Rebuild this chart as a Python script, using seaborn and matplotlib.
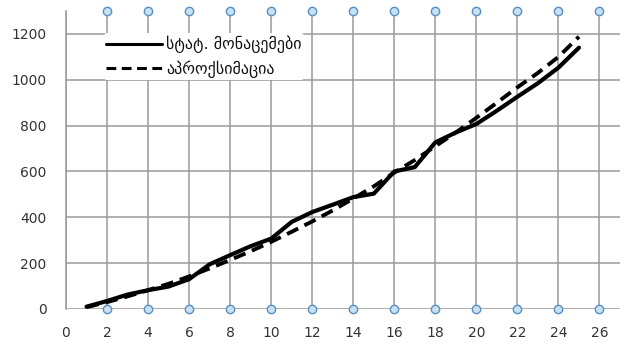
import matplotlib
matplotlib.use("Agg")
import matplotlib.pyplot as plt
import seaborn as sns
import pandas as pd

# Observed statistics and their approximation, days 1..25
days = list(range(1, 26))
observed = [10, 35, 63, 82, 98, 130, 195, 235, 274, 307, 380, 423, 455, 488, 503,
            600, 619, 727, 770, 807, 865, 926, 985, 1053, 1140]
approx = [8, 30, 55, 82, 110, 142, 177, 214, 252, 293, 337, 382, 430, 482, 535,
          595, 650, 710, 770, 834, 900, 967, 1030, 1100, 1188]

label_observed = "სტატ. მონაცემები"
label_approx = "აპროქსიმაცია"

x_ticks = list(range(0, 27, 2))
y_ticks = list(range(0, 1201, 200))
marker_x = list(range(2, 27, 2))
y_top = 1300

sns.set_theme(style="white")
plt.rcParams["font.family"] = ["DejaVu Sans"]

grid_col = "#9a9a9a"
text_col = "#333333"

fig = plt.figure(figsize=(6.27, 3.5), dpi=100)
ax = fig.add_axes([66 / 627, 1 - 309 / 350, 554 / 627, 298 / 350])

df = pd.DataFrame({"day": days, "observed": observed, "approx": approx})

sns.lineplot(data=df, x="day", y="observed", ax=ax, color="black", lw=3.0,
             label=label_observed, zorder=4, solid_capstyle="round",
             solid_joinstyle="round")
sns.lineplot(data=df, x="day", y="approx", ax=ax, color="black", lw=2.8,
             label=label_approx, zorder=3, dashes=False)
ax.lines[-1].set_linestyle((0, (3.2, 1.8)))

# circle markers at the top and bottom of each vertical gridline
mk = pd.DataFrame({"x": marker_x * 2, "y": [0] * len(marker_x) + [y_top] * len(marker_x)})
sns.scatterplot(data=mk, x="x", y="y", ax=ax, s=36, color="#c6e2f2",
                edgecolor="#5b8fc2", linewidth=1.0, zorder=5, clip_on=False, legend=False)

ax.set_xlim(0, 27)
ax.set_ylim(0, y_top)
ax.set_xticks(x_ticks)
ax.set_yticks(y_ticks)
ax.set_xlabel("")
ax.set_ylabel("")

ax.grid(True, color=grid_col, lw=1.1)
ax.set_axisbelow(True)
for s in ["top", "right", "bottom"]:
    ax.spines[s].set_visible(False)
ax.spines["left"].set_color(grid_col)
ax.spines["left"].set_linewidth(1.1)

ax.tick_params(axis="both", which="both", direction="out", length=5, width=1.1,
               color=grid_col, labelcolor=text_col, labelsize=10)
ax.tick_params(axis="x", pad=8, length=4)
ax.tick_params(axis="y", pad=8, length=6)

leg = ax.legend(loc="upper left", bbox_to_anchor=(0.068, 0.925), frameon=True,
                facecolor="white", edgecolor="none", framealpha=1.0,
                fontsize=11.5, handlelength=3.5, handletextpad=0.25,
                labelspacing=0.45, borderpad=0.15, borderaxespad=0)
for h in leg.get_lines():
    h.set_linewidth(2.2)
for t in leg.get_texts():
    t.set_color("#111111")
leg.set_zorder(6)

fig.savefig("out.png", dpi=100, facecolor="white")
